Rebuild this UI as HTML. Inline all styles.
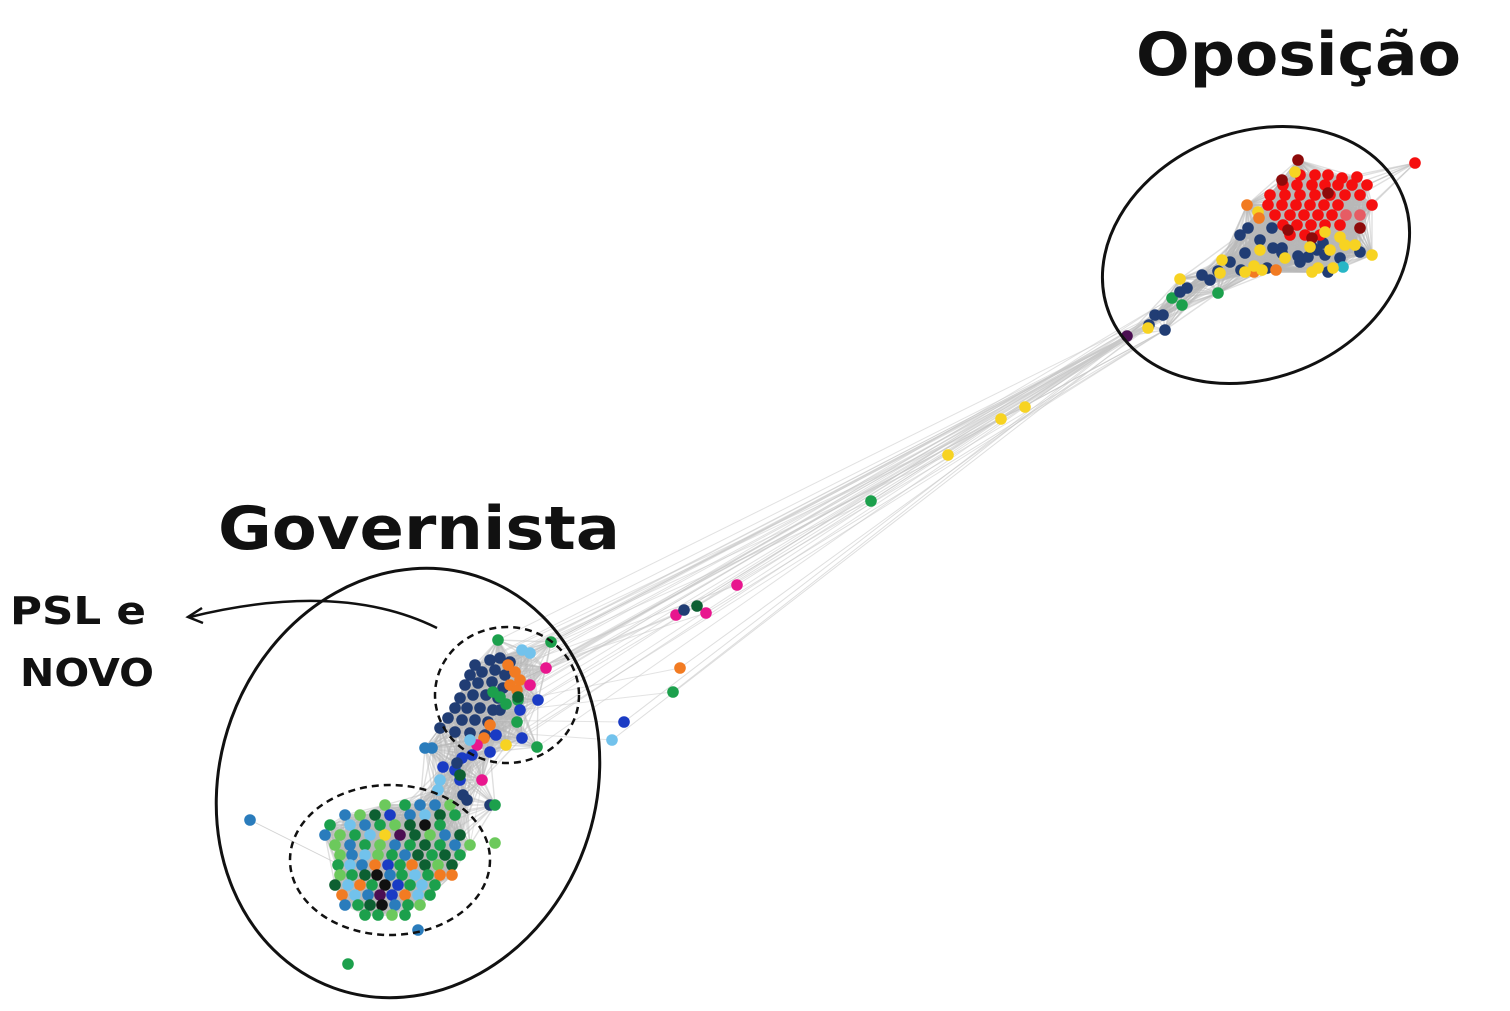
<!DOCTYPE html>
<html><head><meta charset="utf-8"><style>
html,body{margin:0;padding:0;background:#fff}
svg{display:block}
text{font-family:"DejaVu Sans","Liberation Sans",sans-serif;fill:#111;font-weight:bold}
</style></head><body>
<svg id="chart" width="1510" height="1011" viewBox="0 0 1510 1011" xmlns="http://www.w3.org/2000/svg">
<rect width="1510" height="1011" fill="#fff"/>
<g id="edges"></g>
<g id="nodes"></g>
<ellipse cx="1256" cy="255" rx="158" ry="123" transform="rotate(-22 1256 255)" fill="none" stroke="#111" stroke-width="3"/>
<ellipse cx="408" cy="783" rx="188" ry="218" transform="rotate(20 408 783)" fill="none" stroke="#111" stroke-width="3"/>
<ellipse cx="507" cy="695" rx="72" ry="68" fill="none" stroke="#111" stroke-width="2.5" stroke-dasharray="7,5"/>
<ellipse cx="390" cy="860" rx="100" ry="75" fill="none" stroke="#111" stroke-width="2.5" stroke-dasharray="7,5"/>
<text x="1136" y="75" font-size="60" textLength="325" lengthAdjust="spacingAndGlyphs">Oposição</text>
<text x="218" y="549" font-size="60" textLength="402" lengthAdjust="spacingAndGlyphs">Governista</text>
<text x="10" y="624" font-size="38" textLength="136" lengthAdjust="spacingAndGlyphs" font-weight="normal">PSL e</text>
<text x="20" y="686" font-size="38" textLength="134" lengthAdjust="spacingAndGlyphs" font-weight="normal">NOVO</text>
<path d="M437,628 Q340,580 190,617" fill="none" stroke="#111" stroke-width="2.5"/>
<path d="M202,608 L188,617 L203,623" fill="none" stroke="#111" stroke-width="2.5"/>
</svg>
<script>
// layout coordinates in units of 10px
const oppX=[112.7,114.9,114.8,116.5,115.5,116.3,117.2,118.0,118.7,120.2,121.0,121.8,123.0,124.1,126.7,130.0,130.8,132.5,134.0,129.8,128.2,132.8,136.0,131.2,132.3,131.7,124.0,124.8,127.2,126.0,127.3,124.5,128.2,118.2,121.8,134.3,125.4,127.6,
130.0,131.5,132.8,134.2,135.7,128.3,129.7,131.2,132.5,133.8,135.2,136.7,127.0,128.5,130.0,131.5,133.0,134.5,136.0,126.8,128.2,129.6,131.0,132.4,133.8,137.2,127.5,129.0,130.4,131.8,133.2,134.6,136.0,128.3,129.7,131.1,132.5,134.0,129.0,130.5,132.0,
129.8,128.2,132.8,128.8,136.0,131.2,141.5,129.5,125.8,124.7,125.9,132.5,134.0,134.5,133.0,131.0,135.5,137.2,131.8,128.5,126.0,122.2,124.5,126.2,131.2,133.3,122.0,118.0,125.4];
const oppY=[33.6,32.5,32.8,33.0,31.5,31.5,29.8,29.2,28.8,27.5,28.0,27.1,26.2,27.0,26.8,26.2,25.7,25.5,25.8,25.6,24.8,27.2,25.2,24.7,24.3,25.0,23.5,22.8,22.8,24.0,24.8,25.3,25.3,30.5,29.3,26.7,27.2,27.0,
17.5,17.5,17.5,17.8,17.7,18.5,18.5,18.5,18.5,18.5,18.5,18.5,19.5,19.5,19.5,19.5,19.5,19.5,19.5,20.5,20.5,20.5,20.5,20.5,20.5,20.5,21.5,21.5,21.5,21.5,21.5,21.5,21.5,22.5,22.5,22.5,22.5,22.5,23.5,23.5,23.5,
16.0,18.0,19.3,23.0,22.8,23.8,16.3,17.2,21.2,20.5,21.8,23.2,23.7,24.5,25.0,24.7,24.5,25.5,26.8,25.8,25.0,26.0,27.2,27.0,27.2,26.8,27.3,27.9,26.6];
const oppC=["purple","navy","yellow","navy","navy","navy","green","navy","navy","navy","navy","navy","navy","navy","navy","navy","navy","navy","navy","navy","navy","navy","navy","navy","navy","navy","navy","navy","navy","navy","navy","navy","navy","green","green","teal","orange","orange",
"red","red","red","red","red","red","red","red","red","red","red","red","red","red","red","red","red","red","red","red","red","red","red","red","red","red","red","red","red","red","red","lightred","lightred","red","red","red","red","red","red","red","red",
"darkred","darkred","darkred","darkred","darkred","darkred","red","yellow","yellow","orange","orange","yellow","yellow","yellow","yellow","yellow","yellow","yellow","yellow","yellow","yellow","yellow","yellow","yellow","yellow","yellow","yellow","yellow","yellow"];

const midX=[102.5,100.1,94.8,87.1,73.7,70.6,67.6,68.4,69.7,68.0,67.3,62.4,61.2];
const midY=[40.7,41.9,45.5,50.1,58.5,61.3,61.5,61.0,60.6,66.8,69.2,72.2,74.0];
const midC=["yellow","yellow","yellow","green","pink","pink","pink","navy","darkgreen","orange","green","blue","lightblue"];

const upX=[47.5,49.0,50.0,51.0,47.0,48.2,49.5,50.5,46.5,47.8,49.2,50.3,46.0,47.3,48.6,49.8,45.5,46.7,48.0,49.3,44.8,46.2,47.5,48.8,44.0,45.5,47.0,50.0,48.5,
50.8,51.5,51.0,51.7,52.0,49.0,48.4,49.8,55.1,49.3,50.0,51.8,51.7,53.7,50.6,54.6,53.0,47.7,48.2,53.8,52.0,52.2,49.6,49.0,47.2,46.2,45.5,44.3,46.0,52.2,53.0,47.0,44.0,43.8,42.5,43.2,50.6,51.8,46.0,45.7,46.3,46.7,49.5];
const upY=[66.5,66.0,65.8,66.2,67.5,67.2,67.0,67.5,68.5,68.3,68.2,68.8,69.8,69.5,69.5,69.8,70.8,70.8,70.8,71.0,71.8,72.0,72.0,72.2,72.8,73.2,73.3,71.0,73.5,
66.5,67.2,68.5,69.0,68.0,72.5,73.8,64.0,64.2,69.2,69.7,70.0,72.2,74.7,70.4,66.8,68.5,74.5,78.0,70.0,71.0,73.8,73.5,75.2,75.5,75.8,77.0,76.7,78.0,65.0,65.3,74.0,78.0,79.0,74.8,74.8,74.5,69.7,77.5,76.3,79.5,80.0,80.5];
const upC=["navy","navy","navy","navy","navy","navy","navy","navy","navy","navy","navy","navy","navy","navy","navy","navy","navy","navy","navy","navy","navy","navy","navy","navy","navy","navy","navy","navy","navy",
"orange","orange","orange","orange","orange","orange","orange","green","green","green","green","green","green","green","green","pink","pink","pink","pink","blue","blue","blue","blue","blue","blue","blue","blue","blue","blue","lightblue","lightblue","lightblue","lightblue","lightblue","steel","steel","yellow","darkgreen","darkgreen","navy","navy","navy","green"];

const loX=[38.5,40.5,42.0,43.5,45.0,34.5,36.0,37.5,39.0,41.0,42.5,44.0,45.5,33.0,35.0,36.5,38.0,39.5,41.0,42.5,44.0,32.5,34.0,35.5,37.0,38.5,40.0,41.5,43.0,44.5,46.0,
33.5,35.0,36.5,38.0,39.5,41.0,42.5,44.0,45.5,47.0,34.0,35.2,36.5,37.8,39.2,40.5,41.8,43.2,44.5,46.0,33.8,35.0,36.2,37.5,38.8,40.0,41.2,42.5,43.8,45.2,
34.0,35.2,36.5,37.7,39.0,40.2,41.5,42.8,44.0,45.2,33.5,34.8,36.0,37.2,38.5,39.8,41.0,42.2,43.5,34.2,35.5,36.8,38.0,39.2,40.5,41.8,43.0,34.5,35.8,37.0,38.2,39.5,40.8,42.0,36.5,37.8,39.2,40.5,
25.0,34.8,41.8,49.5,49.0];
const loY=[80.5,80.5,80.5,80.5,80.5,81.5,81.5,81.5,81.5,81.5,81.5,81.5,81.5,82.5,82.5,82.5,82.5,82.5,82.5,82.5,82.5,83.5,83.5,83.5,83.5,83.5,83.5,83.5,83.5,83.5,83.5,
84.5,84.5,84.5,84.5,84.5,84.5,84.5,84.5,84.5,84.5,85.5,85.5,85.5,85.5,85.5,85.5,85.5,85.5,85.5,85.5,86.5,86.5,86.5,86.5,86.5,86.5,86.5,86.5,86.5,86.5,
87.5,87.5,87.5,87.5,87.5,87.5,87.5,87.5,87.5,87.5,88.5,88.5,88.5,88.5,88.5,88.5,88.5,88.5,88.5,89.5,89.5,89.5,89.5,89.5,89.5,89.5,89.5,90.5,90.5,90.5,90.5,90.5,90.5,90.5,91.5,91.5,91.5,91.5,
82.0,96.4,93.0,84.3,80.5];
const loC=["lightgreen","green","steel","steel","lightgreen","steel","lightgreen","darkgreen","blue","steel","lightblue","darkgreen","green","green","lightblue","steel","green","lightgreen","darkgreen","black","green","steel","lightgreen","green","lightblue","yellow","purple","darkgreen","lightgreen","steel","darkgreen",
"lightgreen","steel","green","lightgreen","steel","green","darkgreen","green","steel","lightgreen","lightgreen","steel","lightblue","lightgreen","green","steel","darkgreen","green","darkgreen","green","green","lightblue","steel","orange","blue","green","orange","darkgreen","lightgreen","darkgreen",
"lightgreen","green","darkgreen","black","steel","green","lightblue","green","orange","orange","darkgreen","lightblue","orange","green","black","blue","green","lightblue","green","orange","lightblue","steel","purple","blue","orange","lightblue","green","steel","green","darkgreen","black","steel","green","lightgreen","green","green","lightgreen","green",
"steel","green","steel","lightgreen","navy"];

// bundle edges: indices into upX / midX -> indices into oppX
const bundleFrom=[0,3,7,11,15,19,23,29,31,33,36,37,39,41,42,44,45,48,49,50,52,58,59,65,66,5,9,13,17,21];
const bundleTo=[0,1,2,3,4,5,0,1,2,3,4,0,6,7,0,1,2,3,4,5,0,1,2,3,4,0,1,2,3,4];
const midTo=[0,2,4,0,1,3,5,0,1,2,4,0,1];
const loFrom=[4,12,20,30,40,50,60,70,2,11];
const loTo=[0,1,2,3,4,0,1,2,3,4];

const palette={navy:"#213d74",blue:"#1a3bc4",lightblue:"#72c2ec",steel:"#2a7cbc",green:"#1ca04c",lightgreen:"#6cc95c",darkgreen:"#0d6032",orange:"#f27b22",black:"#111",purple:"#4b0f52",red:"#f50f0f",darkred:"#8e0a0a",lightred:"#e65c64",yellow:"#f7d322",teal:"#28b6c6",pink:"#e8168e"};

const sx=v=>v*10, sy=v=>v*10;
const NS="http://www.w3.org/2000/svg";
const eG=document.getElementById('edges'), nG=document.getElementById('nodes');
function line(x1,y1,x2,y2,col,op,w){
  const l=document.createElementNS(NS,'line');
  l.setAttribute('x1',x1);l.setAttribute('y1',y1);l.setAttribute('x2',x2);l.setAttribute('y2',y2);
  l.setAttribute('stroke',col);l.setAttribute('stroke-opacity',op);l.setAttribute('stroke-width',w);
  
  
  eG.appendChild(l);
}
function dense(X,Y,dmax){
  for(let i=0;i<X.length;i++)for(let j=i+1;j<X.length;j++){
    const dx=sx(X[i])-sx(X[j]),dy=sy(Y[i])-sy(Y[j]);
    if(dx*dx+dy*dy<dmax*dmax) line(sx(X[i]),sy(Y[i]),sx(X[j]),sy(Y[j]),"#b8b8b8",0.45,1.4);
  }
}
dense(oppX,oppY,80);
dense(upX.concat(loX.slice(0,98)),upY.concat(loY.slice(0,98)),60);
bundleFrom.forEach((f,k)=>line(sx(upX[f]),sy(upY[f]),sx(oppX[bundleTo[k]]),sy(oppY[bundleTo[k]]),"#c8c8c8",0.55,1));
midX.forEach((x,k)=>{line(sx(x),sy(midY[k]),sx(oppX[midTo[k]]),sy(oppY[midTo[k]]),"#c8c8c8",0.6,1);line(sx(x),sy(midY[k]),sx(upX[k*2]),sy(upY[k*2]),"#c8c8c8",0.5,1);});
loFrom.forEach((f,k)=>line(sx(loX[f]),sy(loY[f]),sx(upX[bundleFrom[k]]),sy(upY[bundleFrom[k]]),"#c8c8c8",0.5,1));
line(sx(oppX[86]),sy(oppY[86]),sx(oppX[42]),sy(oppY[42]),"#c8c8c8",0.8,1.5);
line(sx(loX[98]),sy(loY[98]),sx(loX[13]),sy(loY[13]),"#c8c8c8",0.8,1);
line(sx(loX[99]),sy(loY[99]),sx(loX[94]),sy(loY[94]),"#c8c8c8",0.8,1);

function nodes(X,Y,C){
  X.forEach((x,i)=>{
    const c=document.createElementNS(NS,'circle');
    c.setAttribute('cx',sx(x));c.setAttribute('cy',sy(Y[i]));c.setAttribute('r',5.8);
    c.setAttribute('fill',palette[C[i]]);
    
    
    nG.appendChild(c);
  });
}
nodes(oppX,oppY,oppC);
nodes(midX,midY,midC);
nodes(loX,loY,loC);
nodes(upX,upY,upC);
</script>
</body></html>
